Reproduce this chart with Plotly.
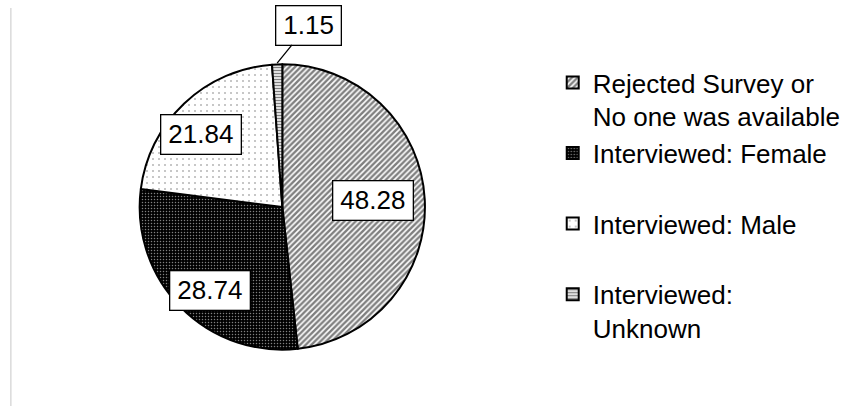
import math
import plotly.graph_objects as go

# Survey outcome shares (percent)
categories = [
    "Rejected Survey or<br>No one was available",
    "Interviewed: Female<br> ",
    "Interviewed: Male<br> ",
    "Interviewed:<br>Unknown",
]
shares = [48.28, 28.74, 21.84, 1.15]

# Monochrome fills: base colour + hatch pattern per slice
base_colors = ["white", "black", "white", "white"]
hatch_shapes = ["/", ".", ".", "-"]
hatch_colors = ["black", "white", "black", "black"]
hatch_sizes = [4, 3, 6, 3]
hatch_solidity = [0.6, 0.2, 0.06, 0.5]

W, H = 846, 406
CX, CY, R = 285, 207, 144  # pie centre and radius in pixels

FONT = "Arial, Liberation Sans, sans-serif"

fig = go.Figure(
    go.Pie(
        labels=categories,
        values=shares,
        sort=False,
        direction="clockwise",
        rotation=0,
        textinfo="none",
        hoverinfo="label+value",
        marker=dict(
            colors=base_colors,
            line=dict(color="black", width=2),
            pattern=dict(
                shape=hatch_shapes,
                fgcolor=hatch_colors,
                size=hatch_sizes,
                solidity=hatch_solidity,
                fillmode="overlay",
            ),
        ),
        domain=dict(x=[(CX - R) / W, (CX + R) / W], y=[(H - CY - R) / H, (H - CY + R) / H]),
    )
)


def px_to_paper(px, py):
    return px / W, 1 - py / H


# Value labels: boxed text placed along each slice's mid-angle
label_radius = [0.64, 0.77, 0.76]
label_nudge_deg = [-0.7, -4.0, -5.0]
total = sum(shares)
cum = 0.0
annotations = []
box_style = dict(
    font=dict(family=FONT, size=26, color="black"),
    bgcolor="white", bordercolor="black", borderwidth=1.3, borderpad=2,
    height=34, xanchor="center", yanchor="middle",
)
for i, v in enumerate(shares):
    mid = (cum + v / 2) / total * 360.0
    cum += v
    text = f"{v:.2f}"
    box_w = sum(14.5 if ch.isdigit() else 7.2 for ch in text) + 10
    if i < len(label_radius):
        ang = math.radians(mid + label_nudge_deg[i])
        r = label_radius[i] * R
        x, y = px_to_paper(CX + r * math.sin(ang), CY - r * math.cos(ang))
        annotations.append(dict(
            x=x, y=y, xref="paper", yref="paper", text=text, showarrow=False,
            width=box_w, **box_style,
        ))
    else:
        # small slice: label outside with a leader line
        ang = math.radians(mid)
        x, y = px_to_paper(CX + R * math.sin(ang), CY - R * math.cos(ang))
        annotations.append(dict(
            x=x, y=y, xref="paper", yref="paper", text=text, showarrow=True,
            arrowhead=0, arrowwidth=1.3, arrowcolor="black", standoff=0,
            ax=31, ay=-38, width=box_w, **box_style,
        ))

fig.update_layout(
    width=W,
    height=H,
    margin=dict(l=0, r=0, t=0, b=0),
    paper_bgcolor="white",
    plot_bgcolor="white",
    showlegend=True,
    legend=dict(
        x=558 / W, y=1 - 59 / H, xanchor="left", yanchor="top",
        valign="top",
        font=dict(family=FONT, size=26, color="black"),
        bgcolor="rgba(0,0,0,0)",
        itemclick=False, itemdoubleclick=False,
    ),
    annotations=annotations,
    shapes=[dict(
        type="line", xref="paper", yref="paper",
        x0=11 / W, x1=11 / W, y0=0, y1=1 - 8 / H,
        line=dict(color="#c8c8c8", width=1),
    )],
)

fig.write_html("out.html")
